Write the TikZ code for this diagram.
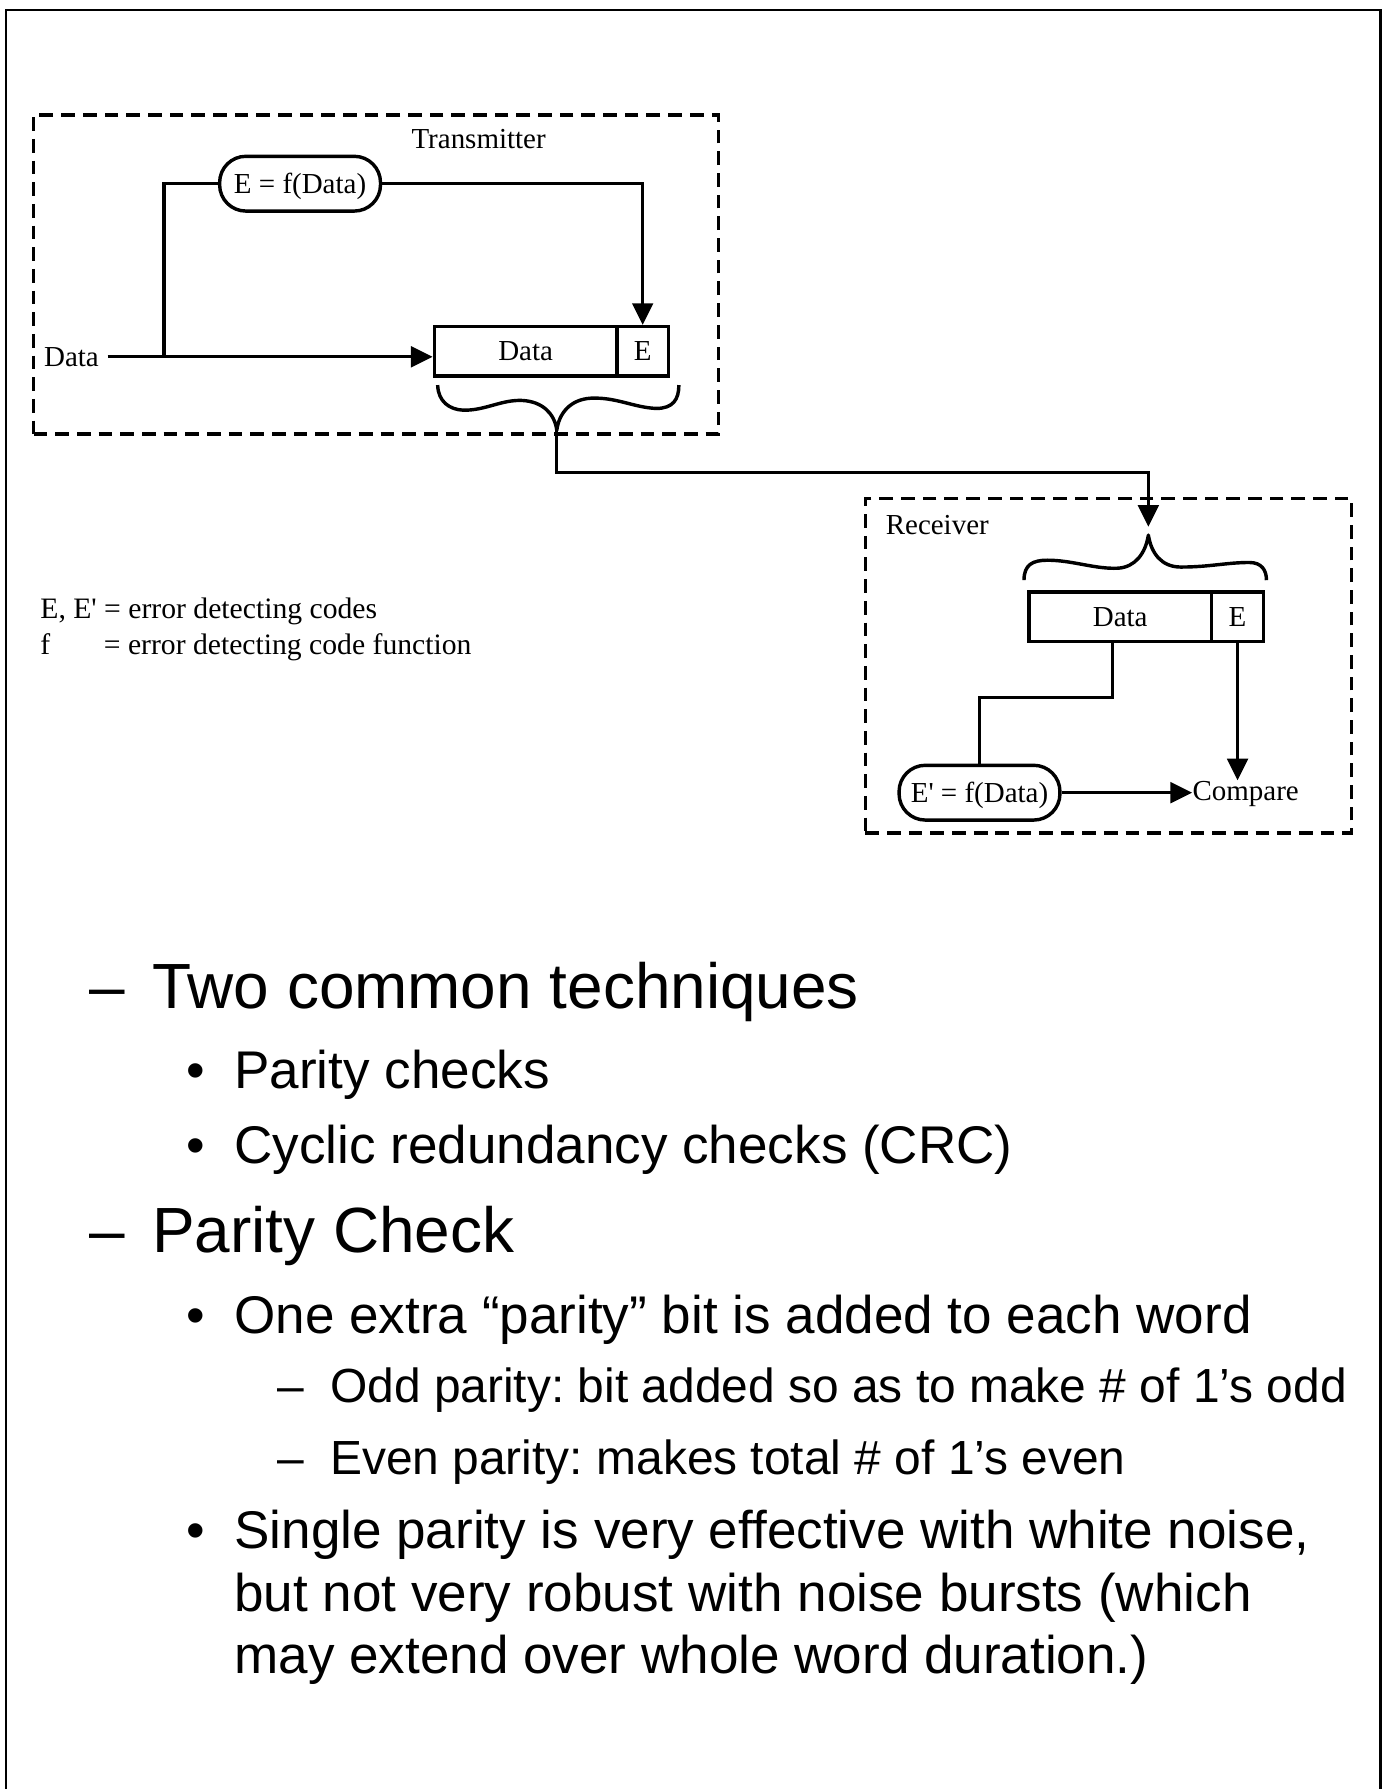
\documentclass[tikz,border=0pt]{standalone}
\usepackage{fontspec}
\setmainfont{Liberation Serif}
\newfontfamily\arialfont{Liberation Sans}
\usetikzlibrary{arrows.meta,calc}
\begin{document}
\frenchspacing
\begin{tikzpicture}[x=0.5pt,y=-0.5pt,
  ln/.style={line width=1.5pt},
  arr/.style={line width=1.5pt,-{Triangle[length=9.5pt,width=9pt]}},
  dashbox/.style={draw,line width=1.6pt,dash pattern=on 6pt off 3.5pt,inner sep=0pt},
  cell/.style={draw,line width=1.5pt,inner sep=0pt,minimum height=21.7pt,font=\fontsize{12.7}{15}\selectfont},
  funcbox/.style={draw,line width=1.5pt,rounded corners=11.5pt,inner sep=0pt,minimum height=24pt,minimum width=70.5pt,text depth=0pt,font=\fontsize{12.7}{15}\selectfont},
  lbl/.style={inner sep=0pt,font=\fontsize{12.7}{15}\selectfont},
  legend/.style={anchor=base west,inner sep=0pt,font=\fontsize{13}{15}\selectfont},
  brace/.style={line width=1.5pt,line join=round},
  lvlA/.style={anchor=base west,inner sep=0pt,font=\arialfont\fontsize{28}{33}\selectfont},
  lvlB/.style={anchor=base west,inner sep=0pt,font=\arialfont\fontsize{23.25}{27.5}\selectfont},
  lvlC/.style={anchor=base west,inner sep=0pt,font=\arialfont\fontsize{21}{25}\selectfont}
]
\useasboundingbox (0,0) rectangle (1215,1568);
% outer frame
\draw[line width=1.2pt] (5.3,1580) -- (5.3,8.8) -- (1209.8,8.8) -- (1209.8,1580);

% ---------- Transmitter ----------
\node[dashbox,minimum width=300.1pt,minimum height=139.85pt] (tx) at (329.6,240.65) {};
\node[lbl] (txlabel) at (419.5,122) {Transmitter};
\node[funcbox] (fE) at (263,161) {E = f(Data)};
\node[cell,minimum width=80pt] (txdata) at (460.7,308) {Data};
\node[cell,minimum width=22.55pt] (txE) at (563.25,308) {E};
\node[lbl,anchor=east,inner xsep=3.7pt] (datain) at (94.4,312.7) {Data};
\coordinate (split) at (143.6,312.7);
\draw[arr] (datain.east) -- (datain.east -| txdata.west);
\draw[ln] (split) |- (fE.west);
\draw[arr] (fE.east) -| (txE.north);
\draw[brace] (383.6,337.5) .. controls (384,352) and (394,359) .. (406,359.5)
  .. controls (425,360) and (440,350) .. (458,351)
  .. controls (475,352) and (486,362) .. (488,377)
  .. controls (490,362) and (500,350) .. (518,349)
  .. controls (540,348) and (555,357) .. (575,358)
  .. controls (590,358) and (595,350) .. (595,337.5);
\coordinate (txtip) at (488,377);

% ---------- Receiver ----------
\node[dashbox,minimum width=213.05pt,minimum height=146.55pt] (rx) at (971.55,583.45) {};
\node[lbl] (rxlabel) at (821.5,460.3) {Receiver};
\node[cell,minimum width=79.85pt] (rxdata) at (981.85,540.6) {Data};
\node[cell,minimum width=22.95pt] (rxE) at (1084.65,540.6) {E};
\node[funcbox] (fE2) at (858.5,694.75) {E\textquotesingle{} = f(Data)};
\node[lbl,anchor=west] (cmp) at (1044.8,695.5) {Compare};
\draw[brace] (897.5,508.5) .. controls (897.5,495) and (905,491) .. (918,491)
  .. controls (940,491) and (960,499) .. (980,498)
  .. controls (995,497) and (1004,485) .. (1006.5,469)
  .. controls (1009,485) and (1018,497) .. (1035,497)
  .. controls (1060,497) and (1075,493) .. (1095,493)
  .. controls (1106,493) and (1110,500) .. (1110,508.5);
\coordinate (rxin) at (1006.5,461.7);
\draw[arr] (txtip) -- ++(0,37) -| (rxin);
\draw[ln] ($(rxdata.south)+(-7,0)$) -- ++(0,47.5) -| (fE2.north);
\draw[arr] (fE2.east) -- (fE2.east -| cmp.west);
\draw[arr] (rxE.south) -- (rxE.south |- cmp.north);

% ---------- Legend ----------
\node[legend] (leg1) at (35,542) {E, E\textquotesingle{} = error detecting codes};
\node[legend] (leg2) at (35,574) {f\hspace{23.5pt}= error detecting code function};

% ---------- Bullets ----------
\node[lvlA] (d1) at (78,884) {–};
\node[lvlA] (t1) at (133,884) {Two common techniques};
\node[lvlB] (b1) at (163,954) {•};
\node[lvlB] (t2) at (205,954) {Parity checks};
\node[lvlB] (b2) at (163,1020) {•};
\node[lvlB] (t3) at (205,1020) {Cyclic redundancy checks (CRC)};
\node[lvlA] (d2) at (78,1098) {–};
\node[lvlA] (t4) at (133,1098) {Parity Check};
\node[lvlB] (b3) at (163,1169) {•};
\node[lvlB] (t5) at (205,1169) {One extra “parity” bit is added to each word};
\node[lvlC] (d3) at (243,1229) {–};
\node[lvlC] (t6) at (289,1229) {Odd parity: bit added so as to make \# of 1’s odd};
\node[lvlC] (d4) at (243,1292) {–};
\node[lvlC] (t7) at (289,1292) {Even parity: makes total \# of 1’s even};
\node[lvlB] (b4) at (163,1357) {•};
\node[lvlB] (t8) at (205,1357) {Single parity is very effective with white noise,};
\node[lvlB] (t9) at (205,1412) {but not very robust with noise bursts (which};
\node[lvlB] (t10) at (205,1467) {may extend over whole word duration.)};
\end{tikzpicture}
\end{document}
